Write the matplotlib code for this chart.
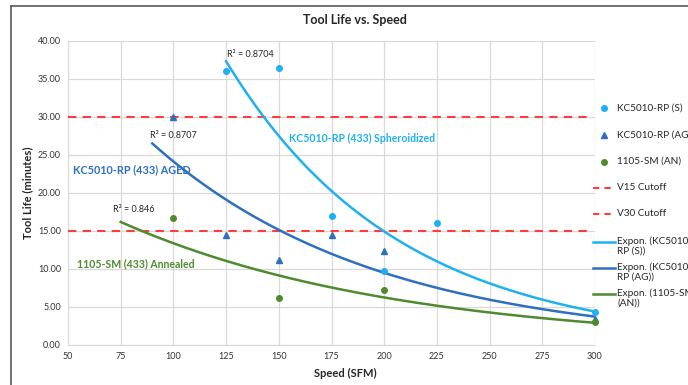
import numpy as np
import matplotlib
matplotlib.use("Agg")
import matplotlib.pyplot as plt
from matplotlib.lines import Line2D

plt.rcParams['font.family'] = ['Lato', 'DejaVu Sans']

# measured tool life (minutes) per speed (SFM)
speed_s = [125, 150, 175, 200, 225, 300]
life_s = [36.0, 36.5, 17.0, 9.8, 16.0, 4.3]

speed_ag = [100, 125, 150, 175, 200, 300]
life_ag = [30.0, 14.5, 11.2, 14.5, 12.4, 3.4]

speed_an = [100, 150, 200, 300]
life_an = [16.7, 6.2, 7.2, 3.0]

# trendline start (Excel backward forecast) and R² labels
trend_start = {"S": 125, "AG": 90, "AN": 75}
r2_labels = {"S": "R² = 0.8704", "AG": "R² = 0.8707", "AN": "R² = 0.846"}

cutoffs = [15, 30]

c_s = "#1FB0F0"
c_ag = "#2E6FC0"
c_an = "#4F8A2F"
c_red = "#FF3B3B"
grid_c = "#D9D9D9"
txt_c = "#262626"

W, H = 688, 385
fig = plt.figure(figsize=(W / 100, H / 100), dpi=100)
ax = fig.add_axes([68 / W, 1 - 345 / H, 527 / W, 304 / H])


def expon_fit(x, y, x0, x1):
	# same as Excel exponential trendline: fit ln(y) linearly
	b, ln_a = np.polyfit(x, np.log(y), 1)
	xs = np.linspace(x0, x1, 200)
	return xs, np.exp(ln_a) * np.exp(b * xs)


for yv in cutoffs:
	ax.plot([50, 299], [yv, yv], color=c_red, lw=1.5, ls=(0, (4, 3)), zorder=3)

xs, ys = expon_fit(speed_s, life_s, trend_start["S"], 300)
ax.plot(xs, ys, color=c_s, lw=1.8, zorder=4)
xs, ys = expon_fit(speed_ag, life_ag, trend_start["AG"], 300)
ax.plot(xs, ys, color=c_ag, lw=1.8, zorder=4)
xs, ys = expon_fit(speed_an, life_an, trend_start["AN"], 300)
ax.plot(xs, ys, color=c_an, lw=1.8, zorder=4)

ax.plot(speed_s, life_s, "o", color=c_s, ms=4, ls="none", clip_on=False, zorder=5)
ax.plot(speed_ag, life_ag, "^", color=c_ag, ms=4.5, ls="none", clip_on=False, zorder=5)
ax.plot(speed_an, life_an, "o", color=c_an, ms=4, ls="none", clip_on=False, zorder=5)

ax.set_xlim(50, 300)
ax.set_ylim(0, 40)
ax.set_xticks(np.arange(50, 301, 25))
ax.set_yticks(np.arange(0, 41, 5))
ax.set_yticklabels([f"{v:.2f}" for v in np.arange(0, 41, 5)])
ax.tick_params(length=0, labelsize=6.5, colors="#333333", pad=5)
ax.grid(True, color=grid_c, lw=0.9)
ax.set_axisbelow(True)
for side in ["top", "right"]:
	ax.spines[side].set_visible(False)
for side in ["left", "bottom"]:
	ax.spines[side].set_color(grid_c)

# text annotations on the plot
ax.text(125.4, 38.2, r2_labels["S"], fontsize=6.5, color=txt_c, va="center")
ax.text(88.9, 27.5, r2_labels["AG"], fontsize=6.5, color=txt_c, va="center")
ax.text(71.3, 17.8, r2_labels["AN"], fontsize=6.5, color=txt_c, va="center")
ax.text(154.8, 27.2, "KC5010-RP (433) Spheroidized", fontsize=7.6, color=c_s,
	fontweight="bold", va="center")
ax.text(52.4, 23.1, "KC5010-RP (433) AGED", fontsize=7.8, color=c_ag,
	fontweight="bold", va="center")
ax.text(54.3, 10.65, "1105-SM (433) Annealed", fontsize=7.6, color=c_an,
	fontweight="bold", va="center")

fig.text(355 / W, 1 - 20 / H, "Tool Life vs. Speed", ha="center", va="center",
	fontsize=9, fontweight="bold", color=txt_c)
fig.text(345 / W, 1 - 373 / H, "Speed (SFM)", ha="center", va="center",
	fontsize=8, fontweight="bold", color=txt_c)
fig.text(28 / W, 1 - 193 / H, "Tool Life (minutes)", ha="center", va="center",
	rotation=90, fontsize=8, fontweight="bold", color=txt_c)

# legend on the right, drawn by hand so every entry keeps Excel's even spacing;
# the figure edge cuts it off like the original
legend_labels = ["KC5010-RP (S)", "KC5010-RP (AG)", "1105-SM (AN)", "V15 Cutoff",
	"V30 Cutoff", "Expon. (KC5010-\nRP (S))", "Expon. (KC5010-\nRP (AG))",
	"Expon. (1105-SM\n(AN))"]
legend_kind = [("o", c_s), ("^", c_ag), ("o", c_an), ("dash", c_red), ("dash", c_red),
	("line", c_s), ("line", c_ag), ("line", c_an)]
legend_y = [108, 135, 161.5, 188, 214, 242, 268, 294]

for label, (kind, col), py in zip(legend_labels, legend_kind, legend_y):
	fy = 1 - py / H
	if kind == "dash":
		fig.add_artist(Line2D([593 / W, 615 / W], [fy, fy], color=col, lw=1.5, ls=(0, (3, 2.5))))
	elif kind == "line":
		fig.add_artist(Line2D([593 / W, 615 / W], [fy, fy], color=col, lw=1.8))
	else:
		fig.add_artist(Line2D([604 / W], [fy], marker=kind, color=col, ls="none",
			ms=4.5 if kind == "^" else 4))
	if "\n" in label:
		# first line sits level with the handle, second one below
		fig.text(617 / W, fy + 6 / H, label, fontsize=7.2, color=txt_c, va="top", linespacing=1.15)
	else:
		fig.text(617 / W, fy, label, fontsize=7.2, color=txt_c, va="center")

# chart area border (only left and top visible in the crop)
fig.add_artist(Line2D([10.5 / W, 10.5 / W], [0, 1 - 6 / H], color="#595959", lw=1.2))
fig.add_artist(Line2D([10.5 / W, 1], [1 - 6 / H, 1 - 6 / H], color="#595959", lw=1.2))

fig.savefig("out.png", dpi=100)
